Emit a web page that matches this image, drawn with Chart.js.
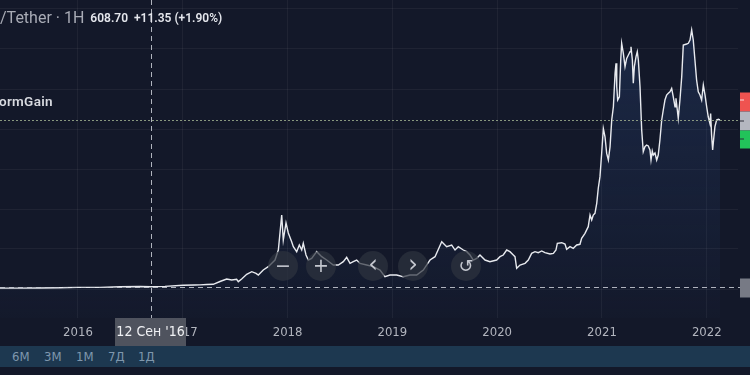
<!DOCTYPE html>
<html>
<head>
<meta charset="utf-8">
<script src="https://cdn.jsdelivr.net/npm/chart.js@4.4.1/dist/chart.umd.min.js"></script>
<style>
    body { margin: 0; width: 750px; height: 375px; overflow: hidden; position: relative; background: #131829; font-family: Roboto, "Noto Sans", sans-serif; }
    #wrap { position: absolute; left: 0; top: 0; width: 750px; height: 346px; }
    .hdr { position: absolute; left: 0; top: 8px; color: #a8abb5; font-size: 16px; white-space: nowrap; }
    .hdr b { color: #e4e6ec; font-size: 12px; font-weight: 600; margin-left: 6px; position: relative; top: -1px; }
    .broker { position: absolute; left: -1px; top: 93px; color: #d8dae0; font-size: 13.5px; font-weight: 600; letter-spacing: 0.3px; }
    .btn { position: absolute; width: 30px; height: 30px; border-radius: 50%; background: rgba(46, 51, 63, 0.7); color: #c4c7cf; text-align: center; line-height: 29px; font-size: 19px; font-family: "DejaVu Sans", sans-serif; }
    .bar { position: absolute; left: 0; top: 346px; width: 750px; height: 21px; background: #1d3850; }
    .bar span { position: absolute; top: 3px; color: #7f97ad; font-size: 13px; font-family: "Liberation Sans Narrow", "DejaVu Sans Condensed", sans-serif; }
</style>
</head>
<body>
<div id="wrap"><canvas id="chart"></canvas></div>
<div class="hdr">/Tether · 1H<b>608.70 &nbsp;+11.35 (+1.90%)</b></div>
<div class="broker">ormGain</div>
<div class="btn" style="left:268px;top:251px">−</div>
<div class="btn" style="left:306px;top:251px">+</div>
<div class="btn" style="left:358px;top:251px;font-size:24px;line-height:27px">‹</div>
<div class="btn" style="left:398px;top:251px;font-size:24px;line-height:27px">›</div>
<div class="btn" style="left:451px;top:251px;font-size:18px">↺</div>
<div class="bar">
    <span style="left:12px">6M</span>
    <span style="left:44px">3M</span>
    <span style="left:76px">1M</span>
    <span style="left:108px">7Д</span>
    <span style="left:138px">1Д</span>
</div>
<script>
// BTC / Tether, decimal years and prices
const years = [
    2015.256, 2015.447, 2015.637, 2015.828, 2016.000, 2016.210, 2016.401, 2016.592, 2016.697, 2016.830,
    2017.002, 2017.116, 2017.164, 2017.228, 2017.291, 2017.355, 2017.419, 2017.467, 2017.514, 2017.530,
    2017.562, 2017.610, 2017.658, 2017.699, 2017.721, 2017.768, 2017.816, 2017.880, 2017.912, 2017.944,
    2017.959, 2017.985, 2018.007, 2018.039, 2018.055, 2018.087, 2018.112, 2018.135, 2018.150, 2018.176,
    2018.198, 2018.230, 2018.278, 2018.326, 2018.373, 2018.436, 2018.484, 2018.532, 2018.564, 2018.596,
    2018.627, 2018.659, 2018.691, 2018.755, 2018.818, 2018.882, 2018.929, 2018.977, 2019.041, 2019.104,
    2019.168, 2019.232, 2019.295, 2019.359, 2019.407, 2019.471, 2019.518, 2019.566, 2019.598, 2019.629,
    2019.677, 2019.709, 2019.741, 2019.772, 2019.805, 2019.836, 2019.884, 2019.931, 2019.995, 2020.027,
    2020.058, 2020.091, 2020.122, 2020.154, 2020.170, 2020.186, 2020.218, 2020.266, 2020.297, 2020.329,
    2020.361, 2020.392, 2020.425, 2020.456, 2020.504, 2020.536, 2020.561, 2020.574, 2020.616, 2020.647,
    2020.663, 2020.695, 2020.726, 2020.759, 2020.790, 2020.806, 2020.838, 2020.869, 2020.886, 2020.902,
    2020.917, 2020.933, 2020.950, 2020.965, 2020.981, 2020.997, 2021.013, 2021.029, 2021.045, 2021.061,
    2021.077, 2021.093, 2021.109, 2021.125, 2021.134, 2021.141, 2021.150, 2021.166, 2021.179, 2021.188,
    2021.204, 2021.220, 2021.236, 2021.252, 2021.268, 2021.277, 2021.290, 2021.299, 2021.309, 2021.325,
    2021.337, 2021.347, 2021.363, 2021.379, 2021.394, 2021.410, 2021.426, 2021.442, 2021.458, 2021.468,
    2021.480, 2021.490, 2021.506, 2021.522, 2021.537, 2021.553, 2021.570, 2021.585, 2021.601, 2021.617,
    2021.633, 2021.649, 2021.665, 2021.680, 2021.697, 2021.706, 2021.719, 2021.728, 2021.744, 2021.761,
    2021.776, 2021.808, 2021.824, 2021.840, 2021.856, 2021.871, 2021.887, 2021.903, 2021.919, 2021.935,
    2021.951, 2021.967, 2021.983, 2021.999, 2022.014, 2022.030, 2022.037, 2022.046, 2022.056, 2022.068,
    2022.078, 2022.094, 2022.110, 2022.126
];
const prices = [
    240, 240, 260, 330, 430, 420, 580, 650, 610, 710,
    1000, 1050, 1100, 1200, 1250, 2000, 2660, 2400, 2580, 1950,
    2660, 3910, 4600, 4170, 3720, 5050, 5930, 7710, 10370, 19680,
    13030, 17600, 14900, 12580, 11250, 9930, 11700, 10370, 12150, 9040,
    7710, 8160, 9930, 8600, 7710, 6380, 6380, 7270, 8430, 6830,
    7270, 7710, 6830, 6380, 5940, 5050, 3280, 3720, 3720, 3280,
    3720, 3720, 5050, 7710, 8600, 12590, 11260, 11700, 10370, 11260,
    10370, 9930, 9040, 7710, 8160, 9040, 7710, 7270, 7710, 8600,
    9040, 10370, 9930, 9040, 8600, 5500, 6380, 6830, 7710, 9490,
    9930, 9660, 10110, 9660, 9310, 9490, 10370, 12150, 12320, 11970,
    10560, 11260, 10820, 11700, 11890, 13480, 14810, 16580, 19680, 18350,
    19680, 20130, 22800, 26870, 29880, 36060, 42710, 40500, 36060, 34310,
    37820, 44950, 48480, 57370, 60030, 53810, 50270, 51150, 60910, 65350,
    62690, 59140, 61350, 62230, 63120, 64450, 60910, 54710, 59140, 61800,
    63120, 60910, 53810, 42290, 36520, 37860, 38300, 38040, 36970, 34310,
    36700, 35640, 36170, 34310, 35640, 39630, 44950, 47610, 50270, 51600,
    52050, 52470, 53360, 51150, 48480, 50710, 47610, 45400, 50270, 56470,
    64900, 65170, 65360, 66230, 68900, 66230, 60910, 55600, 52470, 51610,
    50270, 54260, 51610, 48480, 45820, 44040, 46700, 40950, 36970, 40500,
    43190, 44950, 45130, 44950
];
const yearTicks = [2016, 2017, 2018, 2019, 2020, 2021, 2022];
const gridStep = 10640;
const lastPrice = 44950;
const cross = { year: 2016.697, price: 608.70, label: "12 Сен '16" };

const narrow = '"Liberation Sans Narrow", "DejaVu Sans Condensed", sans-serif';

const overlay = {
    id: 'overlay',
    afterDatasetsDraw(chart) {
        const { ctx, chartArea, scales } = chart;
        const x = scales.x, y = scales.y;
        ctx.save();
        // current price line
        const py = Math.round(y.getPixelForValue(lastPrice)) + 0.5;
        ctx.strokeStyle = 'rgba(150,165,135,0.9)';
        ctx.lineWidth = 1;
        ctx.setLineDash([2, 2]);
        ctx.beginPath(); ctx.moveTo(0, py); ctx.lineTo(740, py); ctx.stroke();
        // crosshair
        const cx = Math.round(x.getPixelForValue(cross.year)) + 0.5;
        const cy = Math.round(y.getPixelForValue(cross.price)) + 0.5;
        ctx.strokeStyle = 'rgba(205,208,216,0.85)';
        ctx.setLineDash([5, 4]);
        ctx.beginPath(); ctx.moveTo(cx, 0); ctx.lineTo(cx, chartArea.bottom); ctx.stroke();
        ctx.beginPath(); ctx.moveTo(0, cy); ctx.lineTo(740, cy); ctx.stroke();
        ctx.setLineDash([]);
        // right-hand price labels
        ctx.fillStyle = '#ef5350'; ctx.fillRect(740, py - 28, 10, 19);
        ctx.fillStyle = '#b4b7c0'; ctx.fillRect(740, py - 9, 10, 19);
        ctx.fillStyle = '#22c35a'; ctx.fillRect(740, py + 10, 10, 18);
        ctx.fillStyle = 'rgba(255,255,255,0.8)';
        ctx.fillRect(740, py - 21, 4, 1);
        ctx.fillStyle = '#2a2e39';
        ctx.fillRect(740, py, 4, 1);
        ctx.fillRect(740, py + 18, 4, 1);
        ctx.fillStyle = '#777a85'; ctx.fillRect(740, cy - 9, 10, 19);
        ctx.restore();
    },
    afterDraw(chart) {
        const { ctx, chartArea, scales } = chart;
        const cx = scales.x.getPixelForValue(cross.year);
        ctx.save();
        ctx.fillStyle = '#4f535e';
        ctx.fillRect(cx - 36, chartArea.bottom, 71, 28);
        ctx.fillStyle = '#f0f1f4';
        ctx.font = '14px ' + narrow;
        ctx.textAlign = 'center';
        ctx.textBaseline = 'middle';
        ctx.fillText(cross.label, cx - 0.5, chartArea.bottom + 14);
        ctx.restore();
    }
};

const ctx = document.getElementById('chart').getContext('2d');
new Chart(ctx, {
    type: 'line',
    data: {
        datasets: [{
            data: years.map((yr, i) => ({ x: yr, y: prices[i] })),
            borderColor: '#e8eaef',
            borderWidth: 1.4,
            pointRadius: 0,
            tension: 0,
            fill: 'start',
            backgroundColor: (c) => {
                const area = c.chart.chartArea;
                if (!area) return 'rgba(40,70,130,0.15)';
                const g = c.chart.ctx.createLinearGradient(0, area.top, 0, area.bottom);
                g.addColorStop(0, 'rgba(45,75,130,0.36)');
                g.addColorStop(1, 'rgba(45,75,130,0.03)');
                return g;
            }
        }]
    },
    options: {
        responsive: true,
        maintainAspectRatio: false,
        animation: false,
        layout: { padding: { left: 0, right: 12, top: 0, bottom: 0 } },
        plugins: { legend: { display: false }, tooltip: { enabled: false } },
        scales: {
            x: {
                type: 'linear',
                min: 2015.256,
                max: 2022.298,
                afterBuildTicks: (axis) => { axis.ticks = yearTicks.map(v => ({ value: v })); },
                afterFit: (axis) => { axis.height = 28; },
                ticks: {
                    padding: 7,
                    color: '#b2b5be',
                    font: { size: 13, family: narrow },
                    maxRotation: 0,
                    callback: (v) => String(v)
                },
                grid: { color: 'rgba(255,255,255,0.05)', drawTicks: false },
                border: { display: false }
            },
            y: {
                position: 'right',
                min: -7714,
                max: 76874,
                afterBuildTicks: (axis) => { axis.ticks = [0, 1, 2, 3, 4, 5, 6, 7].map(k => ({ value: k * gridStep })); },
                ticks: { display: false },
                grid: { color: 'rgba(255,255,255,0.05)', drawTicks: false },
                border: { display: false }
            }
        }
    },
    plugins: [overlay]
});
</script>
</body>
</html>
